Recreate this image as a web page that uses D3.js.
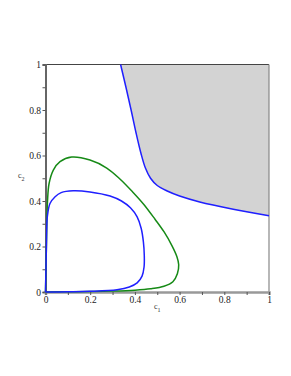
<!DOCTYPE html>
<html>
<head>
<meta charset="utf-8">
<script src="https://cdn.jsdelivr.net/npm/d3@7"></script>
<style>
  body { margin: 0; background: #fff; }
  svg { display: block; }
  text { font-family: "Liberation Serif", "DejaVu Serif", serif; }
</style>
</head>
<body>
<div id="chart"></div>
<script>
// boundary of the shaded region (c1, c2)
const upperBlue = [
  [0.336, 1.0], [0.36, 0.9], [0.383, 0.8], [0.405, 0.7], [0.427, 0.61],
  [0.447, 0.545], [0.47, 0.50], [0.50, 0.468], [0.542, 0.445], [0.60, 0.422],
  [0.69, 0.396], [0.84, 0.364], [1.0, 0.335]
]
// outer closed curve
const greenLoop = [
  [0, 0], [0.002, 0.1], [0.004, 0.2], [0.006, 0.3], [0.009, 0.4], [0.016, 0.477],
  [0.035, 0.536], [0.065, 0.573], [0.117, 0.593], [0.199, 0.58], [0.274, 0.545],
  [0.333, 0.497], [0.39, 0.44], [0.44, 0.385], [0.49, 0.32], [0.53, 0.265],
  [0.565, 0.205], [0.588, 0.155], [0.596, 0.12], [0.59, 0.08], [0.57, 0.045],
  [0.53, 0.025], [0.47, 0.014], [0.40, 0.008], [0.3, 0.004], [0.2, 0.002],
  [0.1, 0.001], [0, 0]
]
// inner closed curve
const blueLoop = [
  [0, 0], [0.002, 0.1], [0.004, 0.2], [0.006, 0.3], [0.008, 0.33], [0.02, 0.389],
  [0.043, 0.419], [0.07, 0.437], [0.124, 0.445], [0.199, 0.44], [0.289, 0.422],
  [0.34, 0.40], [0.38, 0.37], [0.41, 0.33], [0.428, 0.28], [0.438, 0.22],
  [0.442, 0.16], [0.441, 0.11], [0.432, 0.07], [0.41, 0.04], [0.375, 0.022],
  [0.32, 0.01], [0.2, 0.003], [0.1, 0.001], [0, 0]
]
const tickValues = d3.range(0, 11).map(i => i / 10)
const labelValues = [0, 0.2, 0.4, 0.6, 0.8, 1]

const width = 291
const height = 376

const svg = d3.select("#chart").append("svg")
  .attr("width", width)
  .attr("height", height)

const x = d3.scaleLinear().domain([0, 1]).range([45.5, 269])
const y = d3.scaleLinear().domain([0, 1]).range([292, 64.5])

const fmt = d => labelValues.some(v => Math.abs(v - d) < 1e-9)
  ? (d === 0 || d === 1 ? String(d) : d.toFixed(1)) : ""

const curve = d3.curveCatmullRom.alpha(0.5)

// shaded region above the upper curve
svg.append("path")
  .attr("d", d3.area()
    .x(d => x(d[0]))
    .y0(y(1))
    .y1(d => y(d[1]))
    .curve(curve)(upperBlue))
  .attr("fill", "#d3d3d3")
  .attr("stroke", "none")

// frame top and right
svg.append("line")
  .attr("x1", x(0)).attr("x2", x(1)).attr("y1", y(1)).attr("y2", y(1))
  .attr("stroke", "#444").attr("stroke-width", 1.2)
svg.append("line")
  .attr("x1", x(1)).attr("x2", x(1)).attr("y1", y(1)).attr("y2", y(0))
  .attr("stroke", "#888").attr("stroke-width", 1.2)

const line = d3.line()
  .x(d => x(d[0]))
  .y(d => y(d[1]))
  .curve(curve)

svg.append("path")
  .attr("d", line(upperBlue))
  .attr("fill", "none")
  .attr("stroke", "#1f1fff")
  .attr("stroke-width", 1.5)

// axes
const yAxis = svg.append("g")
  .attr("transform", `translate(${x(0)},0)`)
  .call(d3.axisLeft(y).tickValues(tickValues).tickSize(3).tickPadding(1.5).tickFormat(fmt))
yAxis.select(".domain").attr("stroke", "#666").attr("stroke-width", 2)
yAxis.selectAll(".tick line").attr("stroke", "#555")
yAxis.selectAll("text").attr("font-size", 9.5).attr("fill", "#222")
  .attr("font-family", "Liberation Serif")

const xAxis = svg.append("g")
  .attr("transform", `translate(0,${y(0)})`)
  .call(d3.axisBottom(x).tickValues(tickValues).tickSize(3).tickPadding(1).tickFormat(fmt))
xAxis.select(".domain").attr("stroke", "#999").attr("stroke-width", 2.5)
xAxis.selectAll(".tick line").attr("stroke", "#555")
xAxis.selectAll("text").attr("font-size", 9.5).attr("fill", "#222")
  .attr("font-family", "Liberation Serif")

svg.append("path")
  .attr("d", line(greenLoop))
  .attr("fill", "none")
  .attr("stroke", "#168a16")
  .attr("stroke-width", 1.5)

svg.append("path")
  .attr("d", line(blueLoop))
  .attr("fill", "none")
  .attr("stroke", "#1f1fff")
  .attr("stroke-width", 1.5)

// axis titles
const xt = svg.append("text")
  .attr("x", 154).attr("y", 309)
  .attr("font-size", 8).attr("fill", "#333")
xt.append("tspan").text("c")
xt.append("tspan").attr("dy", 3).attr("font-size", 6).text("1")

const yt = svg.append("text")
  .attr("x", 18).attr("y", 178)
  .attr("font-size", 8).attr("fill", "#333")
yt.append("tspan").text("c")
yt.append("tspan").attr("dy", 3).attr("font-size", 6).text("2")
</script>
</body>
</html>
